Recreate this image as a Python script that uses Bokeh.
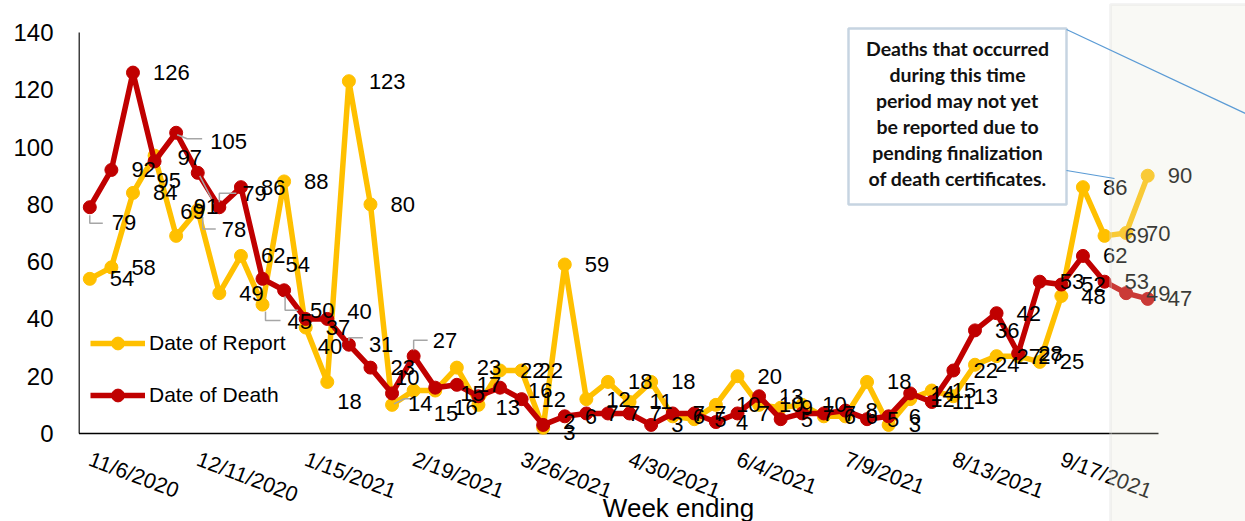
from bokeh.plotting import figure
from bokeh.models import (Range1d, LinearAxis, FixedTicker, Legend, LegendItem,
                          BoxAnnotation, Label, Arrow, ColumnDataSource)
from bokeh.embed import file_html
from bokeh.resources import INLINE
from bokeh.core.properties import value

# ---------------- data ----------------
tick_weeks = [0, 5, 10, 15, 20, 25, 30, 35, 40, 45]
tick_labels = ["11/6/2020", "12/11/2020", "1/15/2021", "2/19/2021", "3/26/2021",
               "4/30/2021", "6/4/2021", "7/9/2021", "8/13/2021", "9/17/2021"]
y_ticks = [0, 20, 40, 60, 80, 100, 120, 140]

# week index 0 = week ending 11/6/2020
date_of_report = [54, 58, 84, 97, 69, 78, 49, 62, 45, 88,
                  37, 18, 123, 80, 10, 15, 15, 23, 10, 22,
                  22, 2, 59, 12, 18, 11, 18, 6, 5, 10,
                  20, 10, 9, 10, 6, 6, 18, 3, 12, 15,
                  13, 24, 27, 27, 25, 48, 86, 69, 70, 90]
date_of_death = [79, 92, 126, 95, 105, 91, 79, 86, 54, 50,
                 40, 40, 31, 23, 14, 27, 16, 17, 13, 16,
                 12, 3, 6, 7, 7, 7, 3, 7, 7, 4,
                 7, 13, 5, 7, 7, 8, 5, 6, 14, 11,
                 22, 36, 42, 28, 53, 52, 62, 53, 49, 47]
weeks = list(range(len(date_of_report)))

callout_lines = ["Deaths that occurred", "during this time", "period may not yet",
                 "be reported due to", "pending finalization", "of death certificates."]

# ---------------- geometry (page pixels) ----------------
W, H = 1245, 521
FRAME_LEFT = 78
AX_X0, AX_X1 = 78.5, 1158.0
Y0_PX, YTOP_PX = 433.0, 32.0
n = len(weeks)
px_x = (AX_X1 - AX_X0) / n
px_y = (Y0_PX - YTOP_PX) / y_ticks[-1]


def X(px):
    return -0.5 + (px - AX_X0) / px_x


def Y(py):
    return (Y0_PX - py) / px_y


p = figure(width=W, height=H,
           x_range=Range1d(X(FRAME_LEFT), X(W)),
           y_range=Range1d(Y(H), Y(0)),
           x_axis_type=None, y_axis_type=None,
           output_backend="svg", toolbar_location=None,
           min_border_left=FRAME_LEFT, min_border_right=0,
           min_border_top=0, min_border_bottom=0)
p.outline_line_color = None
p.background_fill_color = "white"
p.border_fill_color = "white"

FONT = "Liberation Sans"

# y axis
yax = LinearAxis(ticker=FixedTicker(ticks=y_ticks))
yax.axis_line_color = None
yax.major_tick_line_color = None
yax.minor_tick_line_color = None
yax.major_tick_out = 0
yax.major_tick_in = 0
yax.major_label_standoff = 25
yax.major_label_text_font = FONT
yax.major_label_text_font_size = "24px"
yax.major_label_text_color = "black"
p.add_layout(yax, "left")

# x axis (drawn at y = 0)
xax = LinearAxis(ticker=FixedTicker(ticks=tick_weeks), fixed_location=0)
xax.major_label_overrides = {w: t for w, t in zip(tick_weeks, tick_labels)}
xax.axis_line_color = None
xax.major_tick_line_color = None
xax.minor_tick_line_color = None
xax.major_tick_out = 0
xax.major_tick_in = 0
xax.major_label_orientation = -0.36
xax.major_label_standoff = 25
xax.major_label_text_font = FONT
xax.major_label_text_font_size = "21.5px"
xax.major_label_text_color = "black"
p.add_layout(xax, "below")

# axis lines
p.segment(x0=[weeks[0] - 0.5], y0=[0], x1=[weeks[-1] + 0.5], y1=[0],
          line_color="black", line_width=1.5)
p.segment(x0=[weeks[0] - 0.5], y0=[0], x1=[weeks[0] - 0.5], y1=[y_ticks[-1]],
          line_color="black", line_width=1.5)

YELLOW = "#FFC000"
RED = "#C00000"
src = ColumnDataSource(dict(week=weeks, report=date_of_report, death=date_of_death))
ly = p.line("week", "report", source=src, line_color=YELLOW, line_width=5.5, line_join="round")
sy = p.scatter("week", "report", source=src, size=13, fill_color=YELLOW, line_color=YELLOW)
lr = p.line("week", "death", source=src, line_color=RED, line_width=5.5, line_join="round")
sr = p.scatter("week", "death", source=src, size=13, fill_color=RED, line_color=RED)

# data labels (pixel nudges: dx to label start, dy downward)
DEF = (20, 0)
death_nudge = {0: (22, 15), 3: (2, 19), 4: (34, 9), 5: (-4, 34), 6: (23, -14),
               8: (23, -14), 9: (26, 20), 10: (12, 28), 11: (20, -7), 14: (16, 10),
               15: (19, -16), 16: (18, 20), 18: (17, 11), 19: (28, 3), 21: (20, 8)}
report_nudge = {3: (23, 2), 4: (4, -24), 5: (24, 19), 8: (25, 17), 11: (10, 20),
                14: (3, -27), 15: (20, 23), 16: (25, 3), 20: (17, 0), 21: (20, -6)}
report_hidden = {18}

# leader lines, as pixel offsets from their point (dx right, dy down)
death_leaders = {0: [(0, 8), (0, 16), (13, 16)],
                 4: [(1, 2), (11, 6), (26, 6)],
                 5: [(2, 3), (14, 26)],
                 6: [(0, -5), (0, -14), (17, -14)],
                 9: [(1, 6), (1, 20), (14, 20)],
                 12: [(0, -4), (0, -7), (14, -7)],
                 15: [(0, -6), (0, -16), (14, -16)]}
report_leaders = {5: [(5, 7), (5, 19), (18, 19)],
                  8: [(3, 7), (3, 16), (18, 16)],
                  14: [(2, -1), (12, -6), (22, -6)]}

lx, lyv, lt = [], [], []
for i, v in zip(weeks, date_of_report):
    if i in report_hidden:
        continue
    dx, dy = report_nudge.get(i, DEF)
    lx.append(i + dx / px_x)
    lyv.append(v - dy / px_y)
    lt.append(str(v))
for i, v in zip(weeks, date_of_death):
    dx, dy = death_nudge.get(i, DEF)
    lx.append(i + dx / px_x)
    lyv.append(v - dy / px_y)
    lt.append(str(v))

lead_xs, lead_ys = [], []
for series, leaders in ((date_of_death, death_leaders), (date_of_report, report_leaders)):
    for i, pts in leaders.items():
        lead_xs.append([i + dx / px_x for dx, dy in pts])
        lead_ys.append([series[i] - dy / px_y for dx, dy in pts])
p.multi_line(xs=lead_xs, ys=lead_ys, line_color="#A6A6A6", line_width=1.5)

lab = ColumnDataSource(dict(x=lx, y=lyv, t=lt))
p.text(x="x", y="y", text="t", source=lab, text_font=value(FONT),
       text_font_size="22px", text_baseline="middle", text_align="left",
       text_color="black")

# legend
legend = Legend(items=[LegendItem(label="Date of Report", renderers=[ly, sy]),
                       LegendItem(label="Date of Death", renderers=[lr, sr])],
                location=(12, H - 395 - 16), orientation="vertical",
                glyph_width=55, glyph_height=32, label_height=20,
                label_standoff=4, spacing=20, padding=0, margin=0,
                label_text_font=FONT, label_text_font_size="21px",
                label_text_color="black",
                border_line_color=None, background_fill_alpha=0)
p.add_layout(legend)

# week ending title
p.add_layout(Label(x=X(678), y=Y(492), text="Week ending", text_align="center",
                   text_baseline="top", text_font=FONT, text_font_size="26px",
                   text_color="black"))

# shaded "incomplete data" panel
p.add_layout(BoxAnnotation(left=X(1110), right=X(1400), bottom=Y(700), top=Y(4),
                           fill_color="#E7E7D7", fill_alpha=0.25,
                           line_color="#D9D9D9", line_width=3))

# callout box
p.add_layout(BoxAnnotation(left=X(848), right=X(1066), top=Y(28), bottom=Y(204),
                           fill_color="white", fill_alpha=1.0,
                           line_color="#41719C", line_width=2.5))
for k, line in enumerate(callout_lines):
    p.add_layout(Label(x=X(957), y=Y(48 + k * 26), text=line, text_align="center",
                       text_baseline="middle", text_font="Lato", text_font_style="bold",
                       text_font_size="19.5px", text_color="#111111"))
p.add_layout(Arrow(end=None, x_start=X(1066), y_start=Y(29), x_end=X(1245), y_end=Y(113),
                   line_color="#5B9BD5", line_width=1.2))
p.add_layout(Arrow(end=None, x_start=X(1066), y_start=Y(170), x_end=X(1114), y_end=Y(178),
                   line_color="#5B9BD5", line_width=1.2))

open("out.html", "w").write(file_html(p, INLINE))
